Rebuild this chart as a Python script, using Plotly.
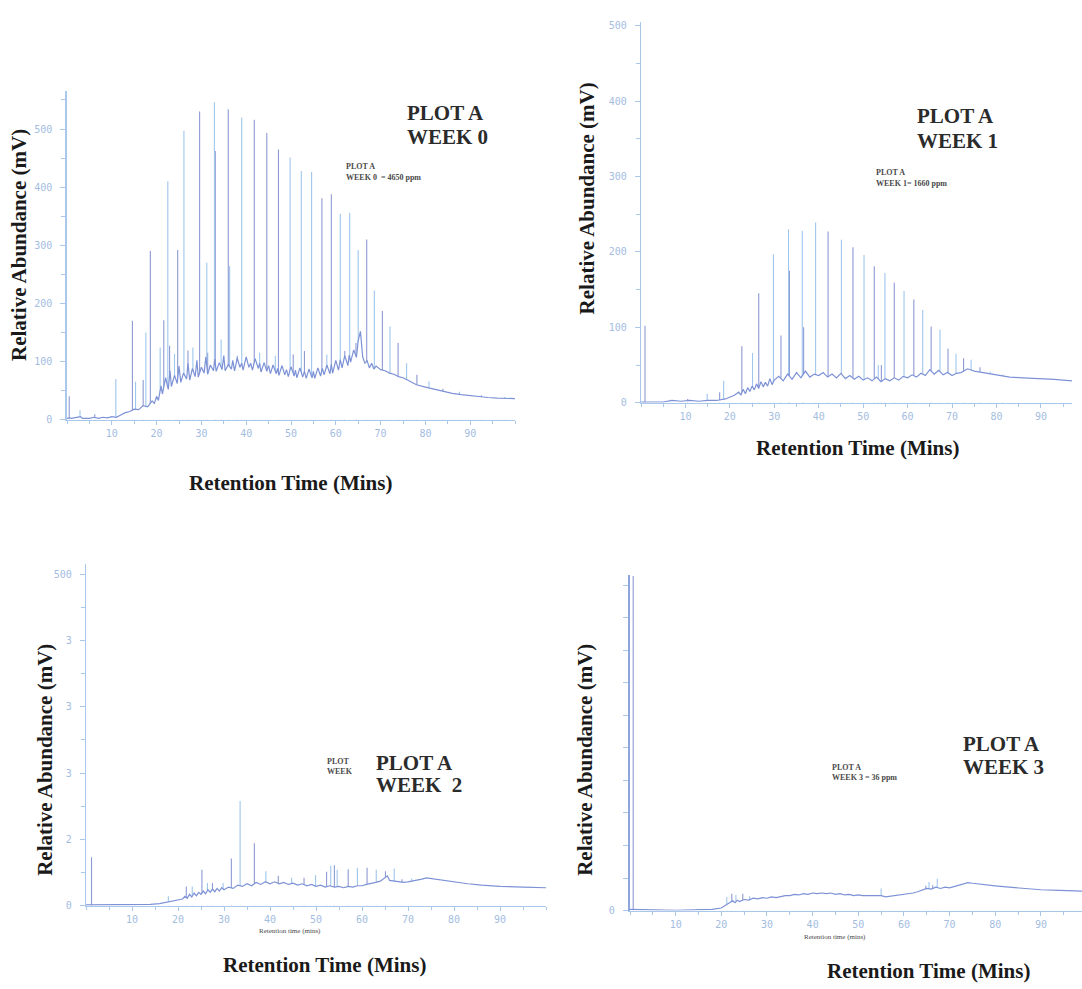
import plotly.graph_objects as go

W, H = 1082, 989

# ---------------- data ----------------
# Panel A : week 0  (baseline points as (time min, mV))
a_baseline = [(0, 2), (0.5, 3), (1, 2), (2, 3), (3, 5), (3.5, 2), (5, 2), (6, 4), (7, 2), (8, 4), (9, 3), (10, 5),
              (11, 4), (12, 8), (13, 12), (14, 14), (15, 18), (16, 17), (17, 24), (18, 22), (19, 32), (19.5, 28),
              (20, 40), (20.4, 33), (21, 58), (21.3, 44), (22, 72), (22.6, 52), (23, 84), (23.3, 57), (24, 76),
              (24.6, 62), (25, 92), (25.4, 64), (26, 80), (26.7, 70), (27, 97), (27.4, 68), (28, 88), (28.6, 74),
              (29, 102), (29.3, 73), (30, 90), (30.6, 80), (31, 108), (31.4, 78), (32, 94), (32.7, 84), (33, 104),
              (33.3, 83), (34, 98), (34.6, 86), (35, 110), (35.3, 84), (36, 95), (36.7, 87), (37, 102), (37.4, 84),
              (38, 106), (38.6, 90), (39, 97), (39.3, 85), (40, 108), (40.6, 90), (41, 97), (41.4, 85), (42, 105),
              (42.7, 88), (43, 97), (43.3, 82), (44, 98), (44.6, 83), (45, 93), (45.4, 79), (46, 94), (46.7, 79),
              (47, 88), (47.3, 76), (48, 93), (48.6, 77), (49, 86), (49.4, 74), (50, 91), (50.7, 75), (51, 85),
              (51.3, 72), (52, 89), (52.6, 73), (53, 83), (53.4, 71), (54, 87), (54.7, 72), (55, 83), (55.3, 71),
              (56, 89), (56.6, 75), (57, 88), (57.4, 77), (58, 94), (58.7, 79), (59, 95), (59.3, 80), (60, 102),
              (60.6, 85), (61, 103), (61.4, 89), (62, 110), (62.7, 93), (63, 111), (63.3, 99), (64, 120), (64.6, 107),
              (65, 136), (65.5, 152), (66, 108), (66.5, 97), (67, 101), (67.5, 89), (68, 97), (68.5, 87), (69, 92),
              (70, 86), (71, 84), (72, 80), (73, 78), (74, 74), (75, 72), (76, 68), (77, 64), (78, 60), (80, 56),
              (82, 52), (84, 48), (86, 45), (88, 43), (90, 41), (92, 40), (94, 38), (96, 37), (98, 37), (100, 36)]
a_peaks = [(0.5, 40), (2.9, 16), (6.2, 9), (10.9, 70), (14.6, 170), (15.3, 65), (17.0, 68), (17.6, 150),
           (18.6, 290), (20.8, 124), (21.6, 171), (22.5, 410), (22.9, 127), (24.0, 113), (24.7, 292), (26.1, 497),
           (27.0, 119), (28.1, 124), (29.6, 530), (31.2, 270), (31.4, 115), (32.9, 546), (33.1, 462), (34.4, 138),
           (36.0, 534), (36.3, 264), (38.0, 110), (39.0, 520), (41.8, 516), (43.0, 115), (44.6, 493), (46.5, 110),
           (47.2, 465), (49.8, 451), (50.5, 112), (52.3, 428), (53.0, 118), (54.6, 426), (56.9, 381), (58.0, 112),
           (59.0, 388), (61.0, 354), (62.0, 118), (63.1, 356), (64.5, 132), (65.0, 292), (66.9, 310), (68.6, 222),
           (70.4, 187), (72.1, 160), (73.9, 132), (75.8, 97), (78.1, 77), (80.8, 66), (83.9, 53), (87.6, 48),
           (92.5, 42), (97.7, 39)]

# Panel B : week 1
b_baseline = [(0, 1), (1.5, 1), (3, 2), (5, 1), (7, 3), (9, 2), (11, 3), (13, 2), (15, 3), (17, 3), (19, 5),
              (20, 7), (21, 10), (22, 14), (22.5, 10), (23, 18), (23.5, 12), (24, 20), (24.5, 15), (25, 22),
              (25.5, 17), (26, 25), (26.5, 19), (27, 28), (27.5, 21), (28, 27), (28.5, 22), (29, 32), (29.5, 24),
              (30, 30), (31, 35), (32, 29), (33, 38), (34, 31), (35, 40), (36, 33), (37, 42), (38, 34), (39, 38),
              (40, 36), (41, 40), (42, 34), (43, 38), (44, 33), (45, 39), (46, 32), (47, 36), (48, 31), (49, 35),
              (50, 30), (51, 33), (52, 29), (53, 34), (54, 28), (55, 32), (56, 29), (57, 33), (58, 30), (59, 35),
              (60, 33), (61, 37), (62, 34), (63, 39), (64, 36), (65, 44), (66, 38), (67, 43), (68, 37), (69, 40),
              (70, 36), (71, 39), (72, 40), (73.5, 45), (75, 42), (77, 40), (80, 37), (83, 34), (86, 33), (90, 32),
              (93, 31), (97, 29)]
b_peaks = [(0.9, 102), (6.5, 4), (10.5, 5), (14.9, 12), (17.7, 14), (18.6, 29), (22.7, 75), (25.1, 66),
           (26.5, 145), (29.8, 197), (31.5, 89), (33.2, 230), (33.4, 175), (36.3, 228), (36.6, 100), (39.3, 239),
           (42.1, 227), (45.1, 216), (47.7, 206), (50.2, 196), (52.5, 181), (53.4, 50), (54.1, 50), (54.9, 172),
           (57.0, 159), (59.2, 148), (61.4, 137), (63.4, 123), (65.3, 101), (67.3, 97), (69.1, 72), (70.9, 65),
           (72.6, 59), (74.3, 57), (76.3, 47), (78.6, 41), (81.4, 37)]

# Panel C : week 2
c_baseline = [(0, 1), (2, 1), (5, 1), (8, 1), (11, 2), (14, 2), (16, 3), (18, 6), (20, 8), (21, 10), (21.5, 14),
              (22, 11), (22.5, 17), (23, 13), (23.5, 19), (24, 15), (24.5, 20), (25, 17), (25.5, 22), (26, 18),
              (26.5, 24), (27, 20), (27.5, 25), (28, 21), (28.5, 26), (29, 22), (29.5, 27), (30, 24), (31, 28),
              (32, 26), (33, 31), (34, 29), (35, 33), (36, 30), (37, 35), (38, 32), (39, 36), (40, 33), (41, 36),
              (42, 33), (43, 35), (44, 32), (45, 34), (46, 31), (47, 33), (48, 30), (49, 32), (50, 29), (51, 31),
              (52, 28), (53, 30), (54, 28), (55, 29), (56, 27), (57, 29), (58, 28), (59, 30), (60, 30), (61, 32),
              (62, 33), (63, 35), (64, 37), (65, 42), (65.5, 45), (66, 38), (67, 37), (68, 36), (69, 35), (70, 36),
              (71, 37), (72, 38), (73, 40), (74, 42), (75, 41), (77, 38), (80, 35), (83, 33), (86, 31), (90, 29),
              (95, 28), (100, 27)]
c_peaks = [(1.2, 73), (17.9, 14), (21.8, 29), (23.1, 29), (25.2, 54), (26.4, 34), (27.5, 34), (29.8, 34),
           (31.6, 71), (33.5, 158), (36.6, 94), (39.1, 52), (41.8, 45), (44.7, 42), (47.4, 42), (49.9, 46),
           (52.3, 51), (53.2, 60), (54.0, 61), (54.6, 54), (57.0, 55), (59.0, 57), (61.1, 57), (63.1, 54),
           (65.1, 52), (67.0, 56), (68.7, 40), (70.8, 41)]

# Panel D : week 3
d_baseline = [(0, 2), (0.3, 2), (2, 2), (5, 1), (10, 0.5), (15, 1), (18, 2), (20, 4), (21, 8), (22, 12),
              (22.5, 15), (23, 12), (23.5, 16), (24, 14), (25, 17), (26, 16), (27, 19), (28, 18), (29, 20),
              (30, 19), (31, 21), (32, 20), (33, 22), (34, 23), (35, 23), (36, 25), (37, 24), (38, 26), (39, 25),
              (40, 27), (41, 26), (42, 27), (43, 26), (44, 27), (45, 25), (46, 26), (47, 24), (48, 25), (49, 23),
              (50, 24), (51, 23), (52, 23), (53, 22), (54, 22), (55, 23), (56, 21), (57, 22), (58, 22), (59, 23),
              (60, 24), (61, 26), (62, 27), (63, 29), (64, 31), (65, 34), (66, 33), (67, 36), (68, 34), (69, 36),
              (70, 35), (71, 37), (72, 39), (73, 41), (74, 43), (75, 42), (77, 40), (80, 38), (83, 36), (86, 34),
              (90, 32), (94, 31), (99, 30)]
d_peaks = [(0.7, 514), (21.2, 21), (22.3, 26), (23.2, 24), (24.7, 26), (26.2, 22), (34.0, 19), (55.0, 34),
           (64.8, 38), (65.5, 44), (66.3, 39), (67.3, 49)]

x_tick_vals = [10, 20, 30, 40, 50, 60, 70, 80, 90]
x_tick_text = ["10", "20", "30", "40", "50", "60", "70", "80", "90"]
y_tick_vals = [0, 100, 200, 300, 400, 500]
y_tick_text_ab = ["0", "100", "200", "300", "400", "500"]
y_tick_text_c = ["0", "2", "3", "3", "3", "500"]
y_tick_vals_d = [0, 50, 100, 150, 200, 250, 300, 350, 400, 450, 500]
y_tick_text_d = ["0", "", "", "", "", "", "", "", "", "", ""]

# ---------------- styling ----------------
AXIS_COL = "#a9c8ea"
TICKLAB_COL = "#a3bddf"
BASE_COL = "#7d92d6"
SPIKE_COLS = ["#8e9ad4", "#9fc6ec"]
TITLE_FONT = dict(family="Liberation Serif, Times New Roman, serif", size=21, color="#1a1a1a")
BIG_FONT = dict(family="Liberation Serif, Times New Roman, serif", size=21, color="#2b2b2b")
SMALL_FONT = dict(family="Liberation Serif, Times New Roman, serif", size=8, color="#4a4a4a")


def px(x):
    return x / W


def py(y):
    return 1 - y / H


panels = [
    # name, baseline, peaks, x-domain(px), y-domain(px bottom, top), xrange, yrange
    ("", a_baseline, a_peaks, (67, 515), (421, 90), [0, 100], [0, 565], y_tick_vals, y_tick_text_ab, 50, 1.5),
    ("2", b_baseline, b_peaks, (641, 1072), (404, 20), [0, 97], [0, 505], y_tick_vals, y_tick_text_ab, 50, 1.2),
    ("3", c_baseline, c_peaks, (86, 546), (911, 567), [0, 100], [0, 515], y_tick_vals, y_tick_text_c, 50, 1.2),
    ("4", d_baseline, d_peaks, (630, 1082), (916, 578), [0, 99], [0, 515], y_tick_vals_d, y_tick_text_d, None, 2.2),
]

fig = go.Figure()
layout = {}

for name, base, peaks, xd, yd, xr, yr, ytv, ytt, ymin, ylw in panels:
    xa = "x" + name
    ya = "y" + name
    bt = [p[0] for p in base]
    by = [p[1] for p in base]
    # spikes (drawn from zero, lower part masked by the white fill under the baseline)
    for ci in range(2):
        sx, sy = [], []
        for i, (t, h) in enumerate(peaks):
            if i % 2 == ci:
                sx += [t, t, None]
                sy += [0, h, None]
        fig.add_trace(go.Scatter(x=sx, y=sy, mode="lines", xaxis=xa, yaxis=ya,
                                 line=dict(color=SPIKE_COLS[ci], width=1.1), hoverinfo="skip",
                                 showlegend=False))
    fig.add_trace(go.Scatter(x=bt, y=by, mode="lines", xaxis=xa, yaxis=ya, fill="tozeroy",
                             fillcolor="white", line=dict(color="rgba(255,255,255,0)", width=0),
                             hoverinfo="skip", showlegend=False))
    fig.add_trace(go.Scatter(x=bt, y=by, mode="lines", xaxis=xa, yaxis=ya,
                             line=dict(color=BASE_COL, width=1.2), showlegend=False))

    xkey = "xaxis" + name
    ykey = "yaxis" + name
    layout[xkey] = dict(domain=[px(xd[0]), min(px(xd[1]), 1.0)], range=xr, anchor=ya,
                        showgrid=False, zeroline=False, showline=True, linecolor=AXIS_COL, linewidth=1.2,
                        ticks="outside", ticklen=4, tickcolor=AXIS_COL, tickwidth=1,
                        tickmode="array", tickvals=x_tick_vals, ticktext=x_tick_text,
                        tickfont=dict(family="DejaVu Sans Mono", size=10, color=TICKLAB_COL),
                        minor=dict(tickmode="linear", tick0=0, dtick=5, ticks="outside", ticklen=3,
                                   tickcolor=AXIS_COL, showgrid=False),
                        fixedrange=True)
    ydict = dict(domain=[py(yd[0]), py(yd[1])], range=yr, anchor=xa,
                 showgrid=False, zeroline=False, showline=True, linecolor=AXIS_COL, linewidth=ylw,
                 ticks="outside", ticklen=5, tickcolor=AXIS_COL, tickwidth=1,
                 tickmode="array", tickvals=ytv, ticktext=ytt,
                 tickfont=dict(family="DejaVu Sans Mono", size=10, color=TICKLAB_COL),
                 ticklabelstandoff=6, fixedrange=True)
    if ymin:
        ydict["minor"] = dict(tickmode="linear", tick0=0, dtick=ymin, ticks="outside", ticklen=4,
                              tickcolor=AXIS_COL, showgrid=False)
    if name == "4":
        ydict["linecolor"] = "#8fa6dc"
    layout[ykey] = ydict

annotations = []


def ann(text, x, y, font, xanchor="left", yanchor="middle", angle=0):
    annotations.append(dict(text=text, x=px(x), y=py(y), xref="paper", yref="paper", showarrow=False,
                            xanchor=xanchor, yanchor=yanchor, font=font, textangle=angle))


# axis titles
ytitle = "<b>Relative Abundance (mV)</b>"
xtitle = "<b>Retention Time (Mins)</b>"
for (x, y) in [(19, 245), (587, 198), (45, 764), (585, 764)]:
    ann(ytitle, x, y, TITLE_FONT, xanchor="center", angle=-90)
for (x, y) in [(290, 485), (857, 450), (324, 971), (928, 977)]:
    ann(xtitle, x, y, TITLE_FONT, xanchor="center")

# big panel labels
for (x, y, t) in [(405, 112, "PLOT A"), (405, 136, "WEEK 0"),
                  (915, 115, "PLOT A"), (915, 140, "WEEK 1"),
                  (374, 767, "PLOT A"), (374, 789, "WEEK&nbsp;&nbsp;2"),
                  (961, 748, "PLOT A"), (961, 771, "WEEK 3")]:
    ann("<b>" + t + "</b>", x, y, BIG_FONT)

# small printed labels from the original traces
for (x, y, t) in [(344, 166, "PLOT A"), (344, 177, "WEEK 0&nbsp;&nbsp;= 4650 ppm"),
                  (874, 172, "PLOT A"), (874, 183, "WEEK 1= 1660 ppm"),
                  (325, 766, "PLOT"), (325, 776, "WEEK"),
                  (830, 772, "PLOT A"), (830, 782, "WEEK 3 = 36 ppm")]:
    ann("<b>" + t + "</b>", x, y, SMALL_FONT)

for (x, y) in [(290, 937), (835, 943)]:
    ann("Retention time (mins)", x, y, dict(family="Liberation Serif, serif", size=7, color="#4a4a4a"),
        xanchor="center")

fig.update_layout(width=W, height=H, margin=dict(l=0, r=0, t=0, b=0), paper_bgcolor="white",
                  plot_bgcolor="rgba(0,0,0,0)", showlegend=False, annotations=annotations, **layout)

fig.write_html("out.html", config={"displayModeBar": False},
               post_script="document.body.style.margin='0';document.body.style.padding='0';")
